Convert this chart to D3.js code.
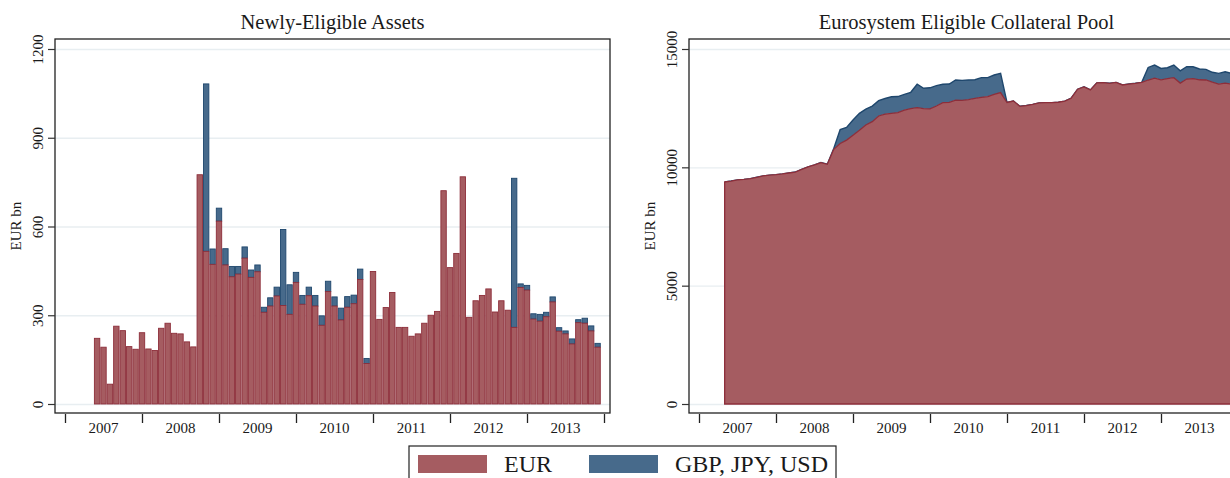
<!DOCTYPE html>
<html>
<head>
<meta charset="utf-8">
<script src="https://cdn.jsdelivr.net/npm/d3@7"></script>
<style>
	html, body { margin: 0; padding: 0; background: #fff; }
	svg { display: block; }
</style>
</head>
<body>
<svg id="chart"></svg>
<script>
;(() => {
	'use strict';

	/* globals d3 */

	// month index: Jan 2007 = 0
	const years = ['2007', '2008', '2009', '2010', '2011', '2012', '2013'],
		yearBounds = [0, 12, 24, 36, 48, 60, 72, 84],
		yearMids = [6, 18, 30, 42, 54, 66, 78];

	// newly-eligible assets, monthly from Jun 2007 (EUR bn)
	const newStart = 5;
	const newEur = [
		222, 192, 67, 263, 248, 194, 185, 241, 186, 181,
		256, 273, 239, 237, 210, 193, 775, 516, 472, 618,
		470, 430, 439, 493, 428, 447, 310, 331, 365, 333,
		303, 411, 337, 366, 331, 266, 380, 331, 284, 327,
		339, 421, 137, 448, 286, 326, 377, 259, 259, 229,
		237, 273, 300, 313, 721, 461, 509, 768, 293, 349,
		367, 389, 311, 349, 317, 259, 394, 385, 287, 280,
		295, 345, 246, 237, 203, 275, 273, 247, 192
	];
	const newOther = [
		0, 0, 0, 0, 0, 0, 0, 0, 0, 0,
		0, 0, 0, 0, 0, 0, 0, 566, 52, 44,
		55, 35, 26, 38, 25, 23, 17, 28, 30, 257,
		100, 34, 30, 29, 36, 32, 35, 31, 40, 36,
		29, 35, 17, 0, 0, 0, 0, 0, 0, 0,
		0, 0, 0, 0, 0, 0, 0, 0, 0, 0,
		0, 0, 0, 0, 0, 504, 12, 16, 18, 23,
		15, 17, 12, 10, 17, 10, 17, 17, 13
	];

	// eligible collateral pool, monthly from May 2007 (EUR bn)
	const poolStart = 4;
	const poolEur = [
		9380, 9420, 9470, 9490, 9520, 9580, 9640, 9670, 9690, 9720,
		9760, 9800, 9910, 10020, 10100, 10200, 10130, 10760, 11010, 11150,
		11360, 11570, 11790, 11930, 12170, 12250, 12280, 12310, 12420, 12480,
		12520, 12480, 12470, 12590, 12730, 12745, 12840, 12830, 12860, 12910,
		12960, 12990, 13080, 13160, 12740, 12800, 12580, 12610, 12660, 12720,
		12730, 12730, 12750, 12800, 12920, 13300, 13400, 13270, 13570, 13580,
		13550, 13590, 13480, 13520, 13550, 13590, 13690, 13770, 13700, 13745,
		13790, 13560, 13730, 13745, 13700, 13690, 13600, 13520, 13560, 13520
	];
	const poolOther = [
		0, 0, 0, 0, 0, 0, 0, 0, 0, 0,
		0, 0, 0, 0, 0, 0, 0, 40, 590, 540,
		640, 710, 670, 660, 650, 660, 700, 680, 660, 690,
		990, 860, 890, 860, 780, 775, 850, 845, 830, 790,
		830, 800, 820, 810, 0, 0, 0, 0, 0, 0,
		0, 0, 0, 0, 0, 0, 0, 0, 0, 0,
		0, 0, 0, 0, 0, 0, 530, 550, 480, 465,
		530, 520, 520, 505, 455, 450, 415, 450, 480, 450
	];

	const newTicks = [0, 300, 600, 900, 1200],
		poolTicks = [0, 5000, 10000, 15000],
		seriesNames = ['EUR', 'GBP, JPY, USD'];

	const width = 1230,
		height = 478,
		fontFamily = '"Liberation Serif", "DejaVu Serif", serif',
		red = '#a55c61',
		redLine = '#8d2e3a',
		blue = '#476a8b',
		blueLine = '#1f476d',
		gridColor = '#e8eef1';

	const svg = d3.select('#chart')
		.attr('width', width)
		.attr('height', height);

	svg.append('rect')
		.attr('width', width)
		.attr('height', height)
		.attr('fill', '#fff');

	/**
	* build rows {m, eur, other} from the arrays
	*/
	const toRows = function(start, eur, other) {
		return eur.map((v, i) => ({ m: start + i, eur: v, other: other[i] }));
	};

	/**
	* gridlines now, returns a function that draws frame, axes and titles on top
	*/
	const drawFrame = function(p, x, y, ticks) {
		const g = p.g;

		// gridlines
		g.append('g')
			.attr('transform', `translate(${p.left},0)`)
			.call(d3.axisLeft(y).tickValues(ticks).tickSize(-(p.right - p.left)).tickFormat(''))
			.call((s) => {
				s.select('.domain').remove();
				s.selectAll('line').attr('stroke', gridColor).attr('stroke-width', 1.3);
			});

		return function() {
			// frame
			g.append('rect')
				.attr('x', p.left)
				.attr('y', p.top)
				.attr('width', p.right - p.left)
				.attr('height', p.bottom - p.top)
				.attr('fill', 'none')
				.attr('stroke', '#222')
				.attr('stroke-width', 1.3);

			// y axis
			g.append('g')
				.attr('transform', `translate(${p.left},0)`)
				.call(d3.axisLeft(y).tickValues(ticks).tickSize(7).tickFormat(d3.format('d')))
				.call((s) => {
					s.select('.domain').remove();
					s.selectAll('line').attr('stroke', '#333').attr('stroke-width', 1.2);
					s.selectAll('text')
						.attr('transform', 'rotate(-90)')
						.attr('x', 0)
						.attr('y', -12)
						.attr('dy', 0)
						.attr('text-anchor', 'middle')
						.attr('font-size', 15);
				});

			// x axis: year boundaries
			g.append('g')
				.attr('transform', `translate(0,${p.bottom + 1})`)
				.call(d3.axisBottom(x).tickValues(yearBounds).tickSize(9).tickFormat(''))
				.call((s) => {
					s.select('.domain').remove();
					s.selectAll('line').attr('stroke', '#222').attr('stroke-width', 1.3);
				});

			g.append('g')
				.selectAll('text')
				.data(yearMids)
				.join('text')
				.attr('x', (d) => x(d))
				.attr('y', p.bottom + 20)
				.attr('text-anchor', 'middle')
				.attr('font-size', 15)
				.text((d, i) => years[i]);

			g.append('text')
				.attr('x', (p.left + p.right) / 2)
				.attr('y', 29)
				.attr('text-anchor', 'middle')
				.attr('font-size', 20.5)
				.text(p.title);

			g.append('text')
				.attr('transform', `translate(${p.left - 34},${(p.top + p.bottom) / 2}) rotate(-90)`)
				.attr('text-anchor', 'middle')
				.attr('font-size', 15)
				.text('EUR bn');
		};
	};

	const stack = d3.stack().keys(['eur', 'other']);

	// ---- left panel: bars
	const left = { g: svg.append('g'), left: 55, right: 610, top: 39, bottom: 413, title: 'Newly-Eligible Assets' };
	const xL = d3.scaleLinear().domain([0, 84]).range([65, 604]),
		yL = d3.scaleLinear().domain([0, 1200]).range([404, 49]);
	const finishLeft = drawFrame(left, xL, yL, newTicks);

	const newLayers = stack(toRows(newStart, newEur, newOther)),
		barW = (xL(1) - xL(0)) * 0.84;

	[[newLayers[1], blue, blueLine], [newLayers[0], red, redLine]].forEach(([layer, fill, line]) => {
		left.g.append('g')
			.selectAll('rect')
			.data(layer.filter((d) => d[1] > d[0]))
			.join('rect')
			.attr('x', (d) => xL(d.data.m) - barW / 2)
			.attr('width', barW)
			.attr('y', (d) => yL(d[1]))
			.attr('height', (d) => yL(d[0]) - yL(d[1]))
			.attr('fill', fill)
			.attr('stroke', line)
			.attr('stroke-width', 0.9);
	});
	finishLeft();

	// ---- right panel: stacked areas
	const right = { g: svg.append('g'), left: 689, right: 1244, top: 39, bottom: 413, title: 'Eurosystem Eligible Collateral Pool' };
	const xR = d3.scaleLinear().domain([0, 84]).range([699, 1238]),
		yR = d3.scaleLinear().domain([0, 15000]).range([404, 49]);
	const finishRight = drawFrame(right, xR, yR, poolTicks);

	const poolLayers = stack(toRows(poolStart, poolEur, poolOther));
	const area = d3.area()
		.x((d) => xR(d.data.m))
		.y0((d) => yR(d[0]))
		.y1((d) => yR(d[1]));
	const topLine = d3.line()
		.x((d) => xR(d.data.m))
		.y((d) => yR(d[1]));

	right.g.append('path')
		.datum(poolLayers[1])
		.attr('d', area)
		.attr('fill', blue);
	right.g.append('path')
		.datum(poolLayers[1])
		.attr('d', topLine)
		.attr('fill', 'none')
		.attr('stroke', blueLine)
		.attr('stroke-width', 1.4);
	right.g.append('path')
		.datum(poolLayers[0])
		.attr('d', area)
		.attr('fill', red)
		.attr('stroke', redLine)
		.attr('stroke-width', 1.3);
	finishRight();

	// ---- legend
	const legend = svg.append('g');
	legend.append('rect')
		.attr('x', 409)
		.attr('y', 446)
		.attr('width', 427)
		.attr('height', 40)
		.attr('fill', '#fff')
		.attr('stroke', '#222')
		.attr('stroke-width', 1.2);

	const legendItems = legend.selectAll('g')
		.data(seriesNames)
		.join('g')
		.attr('transform', (d, i) => `translate(${i ? 589 : 418},0)`);

	legendItems.append('rect')
		.attr('y', 455)
		.attr('width', 69)
		.attr('height', 18)
		.attr('fill', (d, i) => i ? blue : red);

	legendItems.append('text')
		.attr('x', 86)
		.attr('y', 472)
		.attr('font-size', 24)
		.text((d) => d);

	// one serif face for every label, axis ones included
	svg.selectAll('text')
		.style('font-family', fontFamily)
		.style('fill', '#1a1a1a');
})();
</script>
</body>
</html>
